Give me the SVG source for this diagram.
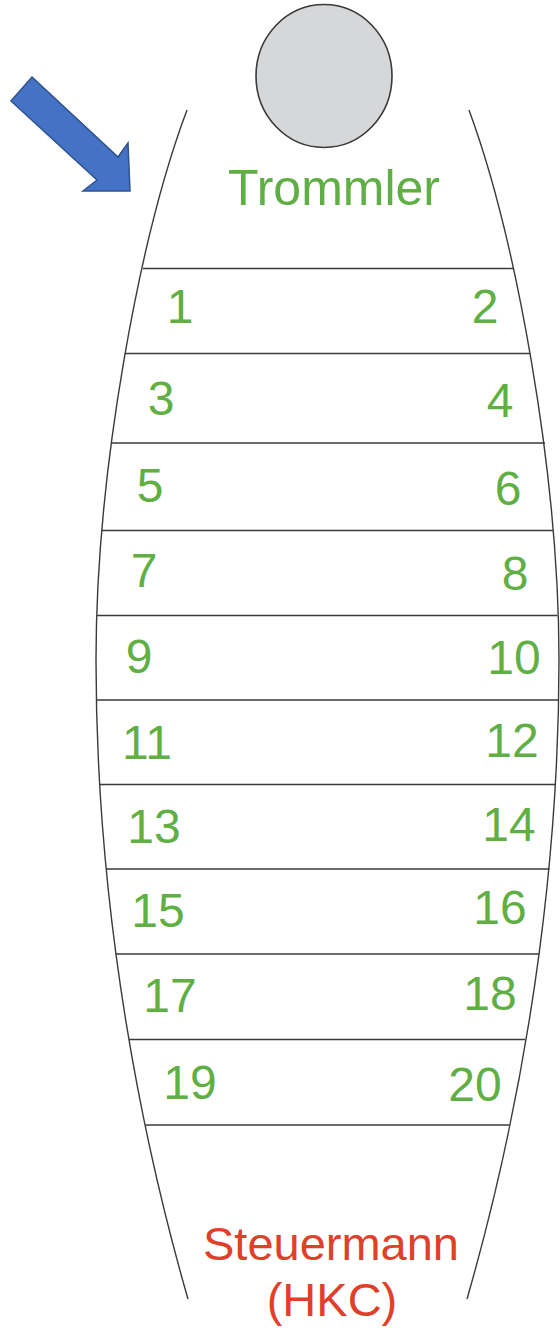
<svg xmlns="http://www.w3.org/2000/svg" width="560" height="1328" viewBox="0 0 560 1328">
<style>
.hull{fill:none;stroke:#3a3a3a;stroke-width:1.4}
.row{stroke:#3a3a3a;stroke-width:1.4}
.num{font-family:"Liberation Sans",Arial,sans-serif;font-size:48px;fill:#5FAF45;text-anchor:middle}
.lbl{font-family:"Liberation Sans",Arial,sans-serif;text-anchor:middle}
</style>
<rect width="560" height="1328" fill="#ffffff"/>
<g id="arrow">
<polygon points="32,77 118,157 128,143 130,191 83,191 97,180 11,101" fill="#4472C4" stroke="#2F528F" stroke-width="1.5" stroke-linejoin="miter"/>
</g>
<g id="drum">
<ellipse cx="324" cy="76" rx="68" ry="71.5" fill="#D5D7D8" stroke="#3a3a3a" stroke-width="1.6"/>
</g>
<g id="hull">
<path class="hull" d="M187,110 C140,235 96,470 96,660 C96,920 145,1150 188,1299"/>
<path class="hull" d="M469,110 C515,235 559,470 559,660 C559,920 510,1150 467,1299"/>
</g>
<g id="rows">
<line class="row" x1="143" y1="268.5" x2="513" y2="268.5"/>
<line class="row" x1="125" y1="353.5" x2="530" y2="353.5"/>
<line class="row" x1="111" y1="443" x2="545" y2="443"/>
<line class="row" x1="101.5" y1="530.5" x2="553" y2="530.5"/>
<line class="row" x1="97" y1="615.5" x2="557.5" y2="615.5"/>
<line class="row" x1="97" y1="700" x2="559" y2="700"/>
<line class="row" x1="99" y1="784.5" x2="556" y2="784.5"/>
<line class="row" x1="106" y1="869" x2="549.5" y2="869"/>
<line class="row" x1="116" y1="954" x2="539" y2="954"/>
<line class="row" x1="129" y1="1039.5" x2="525" y2="1039.5"/>
<line class="row" x1="145.5" y1="1125" x2="509.5" y2="1125"/>
</g>
<g id="trommler">
<text class="lbl" x="334" y="205" font-size="50" fill="#5FAF45">Trommler</text>
</g>
<g id="seats">
<text class="num" x="180" y="323">1</text>
<text class="num" x="485" y="323">2</text>
<text class="num" x="161" y="415">3</text>
<text class="num" x="500" y="417">4</text>
<text class="num" x="150" y="502">5</text>
<text class="num" x="508" y="505">6</text>
<text class="num" x="144" y="587">7</text>
<text class="num" x="515" y="590">8</text>
<text class="num" x="139" y="673">9</text>
<text class="num" x="514" y="674">10</text>
<text class="num" x="147" y="759">11</text>
<text class="num" x="512" y="757">12</text>
<text class="num" x="154" y="843">13</text>
<text class="num" x="509" y="841">14</text>
<text class="num" x="158" y="927">15</text>
<text class="num" x="500" y="924">16</text>
<text class="num" x="170" y="1012">17</text>
<text class="num" x="490" y="1010">18</text>
<text class="num" x="190" y="1099">19</text>
<text class="num" x="475" y="1101">20</text>
</g>
<g id="steuermann">
<text class="lbl" x="331" y="1260" font-size="47" fill="#E0402A">Steuermann</text>
<text class="lbl" x="332" y="1316" font-size="47" fill="#E0402A">(HKC)</text>
</g>
</svg>
